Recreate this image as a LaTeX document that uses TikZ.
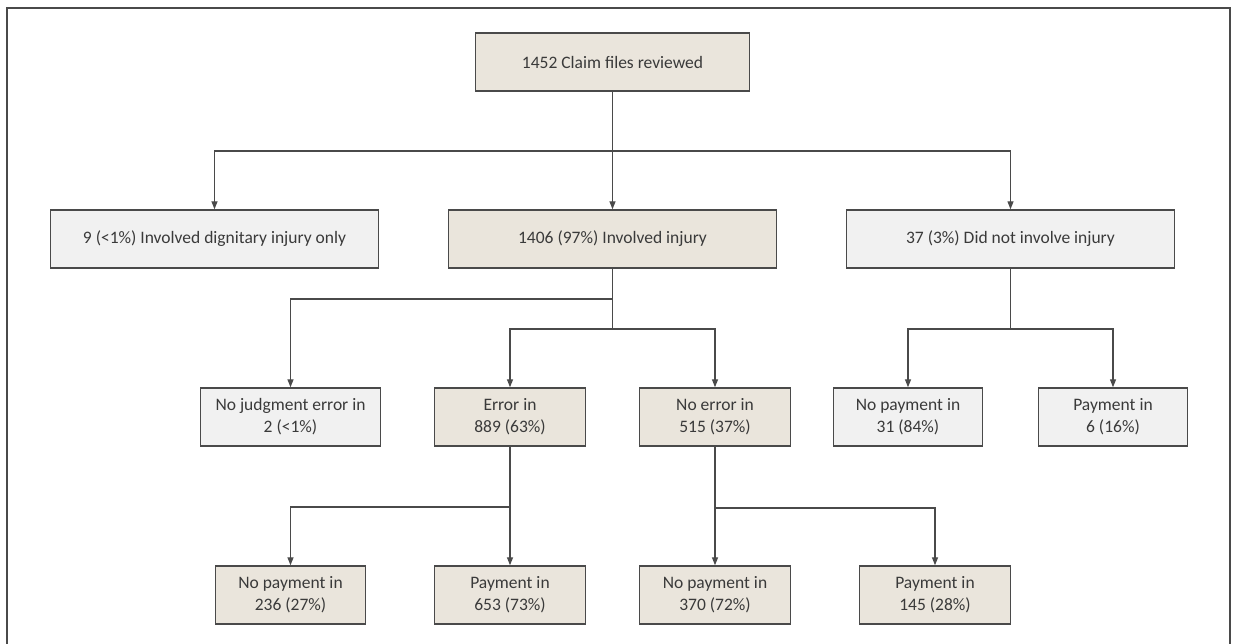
\documentclass[tikz,border=0pt]{standalone}
\usepackage{fontspec}
\setmainfont{Carlito}
\usetikzlibrary{arrows.meta}
\definecolor{beige}{HTML}{EAE5DC}
\definecolor{lgrey}{HTML}{F1F1F1}
\definecolor{edge}{HTML}{4A4A4A}
\definecolor{txt}{HTML}{3A3A3A}
\begin{document}
\begin{tikzpicture}[x=1pt,y=-1pt,
  box/.style={draw=edge, line width=1.4pt, minimum height=58pt, inner sep=0pt, align=center,
    font=\fontsize{17.5}{22}\selectfont, text=txt},
  tanbox/.style={box, fill=beige},
  grybox/.style={box, fill=lgrey},
  conn/.style={draw=edge, line width=1.3pt},
  arr/.style={conn, -{Triangle[length=8pt,width=6pt]}}]
\useasboundingbox (0,0) rectangle (1237,644);
\draw[conn] (7,644) -- (7,8) -- (1230,8) -- (1230,644);

\node[tanbox, minimum width=274pt] (top) at (612.5,62) {1452 Claim files reviewed};

\node[grybox, minimum width=328pt] (dig) at (214.5,239) {9 (<1\%) Involved dignitary injury only};
\node[tanbox, minimum width=328pt] (inj) at (612.5,239) {1406 (97\%) Involved injury};
\node[grybox, minimum width=328pt] (noinj) at (1010.5,239) {37 (3\%) Did not involve injury};

\node[grybox, minimum width=180pt] (nojud) at (290.5,417) {No judgment error in\\2 (<1\%)};
\node[tanbox, minimum width=151pt] (err) at (510,417) {Error in\\889 (63\%)};
\node[tanbox, minimum width=151pt] (noerr) at (715,417) {No error in\\515 (37\%)};
\node[grybox, minimum width=149pt] (np31) at (908,417) {No payment in\\31 (84\%)};
\node[grybox, minimum width=149pt] (p6) at (1113,417) {Payment in\\6 (16\%)};

\node[tanbox, minimum width=150pt] (np236) at (290.5,595) {No payment in\\236 (27\%)};
\node[tanbox, minimum width=151pt] (p653) at (510,595) {Payment in\\653 (73\%)};
\node[tanbox, minimum width=151pt] (np370) at (715,595) {No payment in\\370 (72\%)};
\node[tanbox, minimum width=151pt] (p145) at (935,595) {Payment in\\145 (28\%)};

\coordinate (s1) at (612.5,151);
\coordinate (s2) at (612.5,299);
\coordinate (s3) at (612.5,329);
\coordinate (s4) at (1010.5,329);
\coordinate (s5) at (510,507);
\coordinate (s6) at (715,508);

\draw[conn] (top.south) -- (s1);
\draw[arr] (s1) -| (dig.north);
\draw[arr] (s1) -- (inj.north);
\draw[arr] (s1) -| (noinj.north);

\draw[conn] (inj.south) -- (s3);
\draw[arr] (s2) -| (nojud.north);
\draw[arr] (s3) -| (err.north);
\draw[arr] (s3) -| (noerr.north);

\draw[conn] (noinj.south) -- (s4);
\draw[arr] (s4) -| (np31.north);
\draw[arr] (s4) -| (p6.north);

\draw[arr] (err.south) -- (p653.north);
\draw[arr] (s5) -| (np236.north);

\draw[arr] (noerr.south) -- (np370.north);
\draw[arr] (s6) -| (p145.north);
\end{tikzpicture}
\end{document}
